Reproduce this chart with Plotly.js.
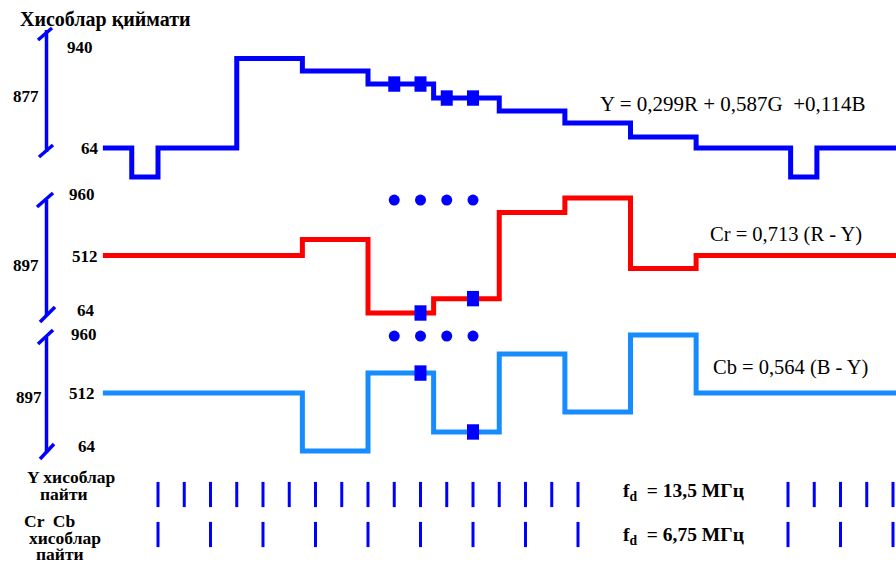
<!DOCTYPE html>
<html>
<head>
<meta charset="utf-8">
<script src="https://cdn.plot.ly/plotly-3.0.1.min.js"></script>
<style>html,body{margin:0;padding:0;background:#fff;}#chart{width:896px;height:562px;}</style>
</head>
<body>
<div id="chart"></div>
<script>
// ---- Data (sample index units on x, signal levels on y) ----
const yStepX   = [-2.1, -1, 0, 3, 5.5, 8, 10.5, 13, 15.5, 18, 20.5, 24.1, 25.1, 28.3];
const yStepVal = [64, -220, 64, 940, 818, 690, 553, 426, 309, 172, 64, -220, 64, 64];

const crStepX   = [-2.1, 5.5, 8, 10.5, 13, 15.5, 18, 20.5, 28.3];
const crStepVal = [512, 637, 64, 176, 847, 960, 410, 512, 512];

const cbStepX   = [-2.1, 5.5, 8, 10.5, 13, 15.5, 18, 20.5, 28.3];
const cbStepVal = [512, 64, 666, 211, 813, 365, 960, 512, 512];

const ySampleMarkX   = [9, 10, 11, 12];
const ySampleMarkVal = [690, 690, 553, 553];
const crSampleMarkX   = [10, 12];
const crSampleMarkVal = [64, 176];
const cbSampleMarkX   = [10, 12];
const cbSampleMarkVal = [666, 211];

const dotX = [9, 10, 11, 12];
const crDotVal = [944, 944, 944, 944];
const cbDotVal = [952, 952, 952, 952];

const ySampleTicks = [0,1,2,3,4,5,6,7,8,9,10,11,12,13,14,15,16,24,25,26,27,28];
const cSampleTicks = [0,2,4,6,8,10,12,14,16,24,26,28];

const titleText = 'Хисоблар қиймати';
const yFormula  = 'Y = 0,299R + 0,587G  +0,114B';
const crFormula = 'Cr = 0,713 (R - Y)';
const cbFormula = 'Cb = 0,564 (B - Y)';

// ---- Layout helpers ----
const W = 896, H = 562;
function rangeFrom(vA, pA, vB, pB, size, vertical) {
  const k = (vB - vA) / (pB - pA);
  const lo = vA - pA * k;
  const hi = vA + (size - pA) * k;
  return vertical ? [hi, lo] : [lo, hi];
}
const px = x => x / W;
const py = y => 1 - y / H;

const BLUE = '#0000ff', RED = '#ff0000', LBLUE = '#168cff';
const serif = 'Liberation Serif, Times New Roman, serif';

const sampleMark = {symbol: 'line-ns', size: 11, line: {width: 12, color: BLUE}};
const tickMark = {symbol: 'line-ns', size: 18, line: {width: 3, color: BLUE}};

const traces = [
  {x: yStepX, y: yStepVal, yaxis: 'y', mode: 'lines', line: {shape: 'hv', color: BLUE, width: 5}},
  {x: crStepX, y: crStepVal, yaxis: 'y2', mode: 'lines', line: {shape: 'hv', color: RED, width: 5}},
  {x: cbStepX, y: cbStepVal, yaxis: 'y3', mode: 'lines', line: {shape: 'hv', color: LBLUE, width: 5}},
  {x: ySampleMarkX, y: ySampleMarkVal, yaxis: 'y', mode: 'markers', marker: sampleMark},
  {x: crSampleMarkX, y: crSampleMarkVal, yaxis: 'y2', mode: 'markers', marker: sampleMark},
  {x: cbSampleMarkX, y: cbSampleMarkVal, yaxis: 'y3', mode: 'markers', marker: sampleMark},
  {x: dotX, y: crDotVal, yaxis: 'y2', mode: 'markers', marker: {symbol: 'circle', size: 11, color: BLUE}},
  {x: dotX, y: cbDotVal, yaxis: 'y3', mode: 'markers', marker: {symbol: 'circle', size: 11, color: BLUE}},
  {x: ySampleTicks, y: ySampleTicks.map(() => 0), yaxis: 'y4', mode: 'markers', marker: tickMark},
  {x: cSampleTicks, y: cSampleTicks.map(() => 1), yaxis: 'y4', mode: 'markers', marker: tickMark}
];

const hidden = {visible: false, fixedrange: true, showgrid: false, zeroline: false};

function bracket(top, bottom, x, ts, bs) {
  const L = (x0, y0, x1, y1) => ({type: 'line', xref: 'paper', yref: 'paper',
    x0: px(x0), y0: py(y0), x1: px(x1), y1: py(y1), line: {color: BLUE, width: 3.5}});
  return [L(x, top, x, bottom), L(ts[0], ts[1], ts[2], ts[3]), L(bs[0], bs[1], bs[2], bs[3])];
}
const shapes = [
  ...bracket(30, 152, 46.5, [38, 40, 52, 28], [39, 157, 53, 145]),
  ...bracket(200, 316, 46.5, [37, 207, 53, 193], [40, 322, 55, 307]),
  ...bracket(337, 453, 46.5, [38, 344, 53, 330], [40, 459, 54, 444])
];

function ann(text, x, y, size, bold, anchor) {
  return {text: bold ? '<b>' + text + '</b>' : text, xref: 'paper', yref: 'paper',
    x: px(x), y: py(y), xanchor: anchor || 'center', yanchor: 'middle', showarrow: false,
    font: {family: serif, size: size, color: '#000'}};
}
const annotations = [
  ann(titleText, 105, 20, 20, true),
  ann('940', 80, 47, 17, true), ann('877', 26, 97, 17, true), ann('64', 90, 148, 17, true),
  ann('960', 82, 195, 17, true), ann('897', 26, 265, 17, true), ann('512', 85, 256, 17, true), ann('64', 86, 310, 17, true),
  ann('960', 84, 334, 17, true), ann('897', 29, 397, 17, true), ann('512', 82, 393, 17, true), ann('64', 87, 446, 17, true),
  ann(yFormula, 733, 104, 21, false),
  ann(crFormula, 786, 235, 20.5, false),
  ann(cbFormula, 790, 367, 20.5, false),
  ann('Y хисоблар', 71, 477, 17.5, true), ann('пайти', 64, 494, 17.5, true),
  ann('Cr  Cb', 49, 521, 17.5, true), ann('хисоблар', 65, 538, 17.5, true), ann('пайти', 60, 554, 17.5, true),
  ann('f<sub>d</sub>  = 13,5 МГц', 683, 492, 19.5, true),
  ann('f<sub>d</sub>  = 6,75 МГц', 683, 536, 19.5, true)
];

const layout = {
  width: W, height: H, margin: {l: 0, r: 0, t: 0, b: 0, pad: 0},
  paper_bgcolor: '#fff', plot_bgcolor: '#fff', showlegend: false,
  xaxis: Object.assign({range: rangeFrom(0, 158, 28, 893, W, false)}, hidden),
  yaxis: Object.assign({range: rangeFrom(940, 58.5, 64, 148, H, true)}, hidden),
  yaxis2: Object.assign({overlaying: 'y', range: rangeFrom(960, 198, 64, 313, H, true)}, hidden),
  yaxis3: Object.assign({overlaying: 'y', range: rangeFrom(960, 335, 64, 451, H, true)}, hidden),
  yaxis4: Object.assign({overlaying: 'y', range: rangeFrom(0, 494.5, 1, 534.5, H, true)}, hidden),
  shapes: shapes, annotations: annotations
};

Plotly.newPlot('chart', traces, layout, {staticPlot: true, displayModeBar: false});
</script>
</body>
</html>
